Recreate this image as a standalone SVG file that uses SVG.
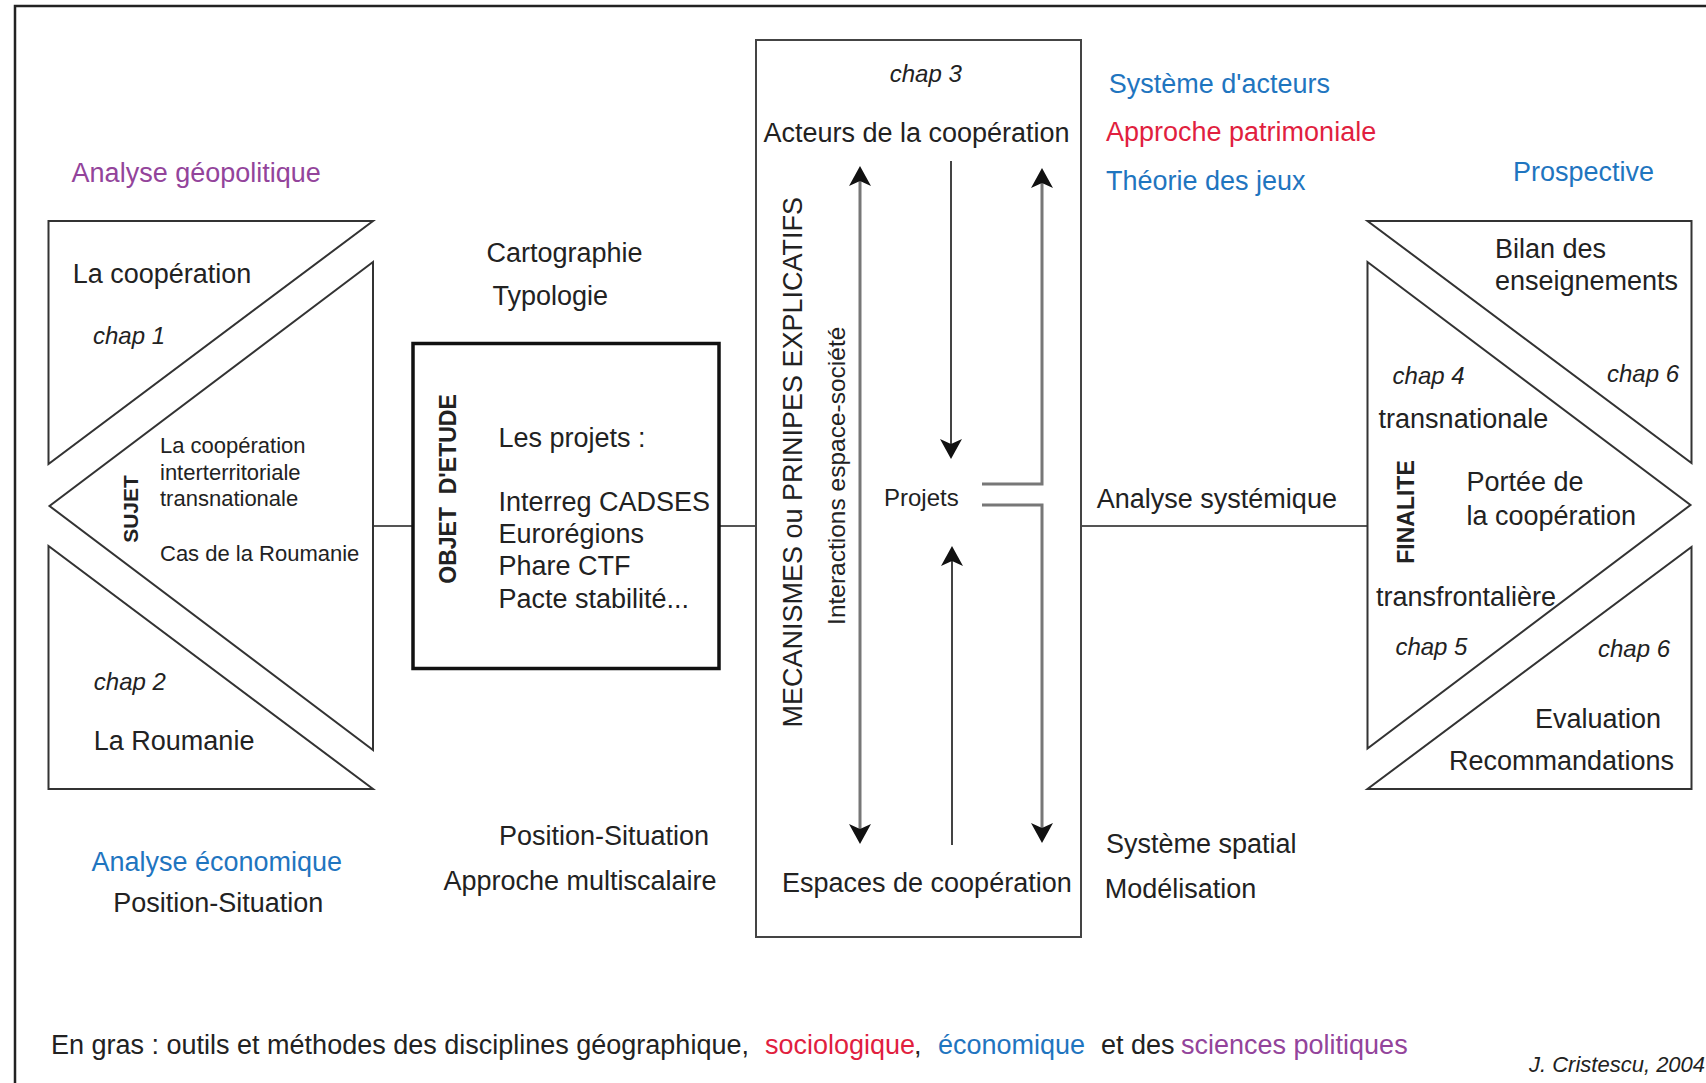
<svg xmlns="http://www.w3.org/2000/svg" width="1706" height="1083" viewBox="0 0 1706 1083">
<style>
text{font-family:"Liberation Sans",Arial,Helvetica,sans-serif;fill:#222;}
.t{font-size:27px;}
.s{font-size:22px;}
.c{font-size:24px;font-style:italic;}
.b{font-weight:bold;}
.lg{font-size:27px;}
.pu{fill:#93449b;}
.bl{fill:#1f75bf;}
.rd{fill:#e11f3f;}
.shape{fill:#fff;stroke:#333;stroke-width:2;stroke-linejoin:miter;}
.conn{stroke:#555;stroke-width:2;fill:none;}
.arr{stroke:#777;stroke-width:3;fill:none;}
.arr2{stroke:#444;stroke-width:2;fill:none;}
</style>
<defs>
<marker id="ah" viewBox="-21 -12 22 24" refX="-10" refY="0" markerWidth="22" markerHeight="24" markerUnits="userSpaceOnUse" orient="auto-start-reverse">
<path d="M0,0 L-20,-11 L-15,0 L-20,11 Z" fill="#111"/>
</marker>
</defs>
<rect x="0" y="0" width="1706" height="1083" fill="#fff"/>
<rect x="15" y="6" width="1800" height="1200" fill="none" stroke="#222" stroke-width="2.5"/>

<g id="connectors">
<line class="conn" x1="373" y1="526" x2="413" y2="526"/>
<line class="conn" x1="719" y1="526" x2="756" y2="526"/>
<line class="conn" x1="1081" y1="526" x2="1367.5" y2="526"/>
<line class="arr" x1="860" y1="176" x2="860" y2="834" marker-start="url(#ah)" marker-end="url(#ah)"/>
<line class="arr2" x1="951" y1="161" x2="951" y2="449" marker-end="url(#ah)"/>
<line class="arr2" x1="952" y1="845" x2="952" y2="556" marker-end="url(#ah)"/>
<path class="arr" d="M982,484 H1042 V178" marker-end="url(#ah)"/>
<path class="arr" d="M982,505 H1042 V833" marker-end="url(#ah)"/>
</g>

<g id="sujet-cooperation">
<polygon class="shape" points="48.5,221 373,221 48.5,464"/>
<text class="t" x="72.7" y="282.7">La coopération</text>
<text class="c" x="93" y="343.6">chap 1</text>
</g>
<g id="sujet">
<polygon class="shape" points="373,262 49.5,506 373,750"/>
<text class="b" font-size="21" transform="translate(137.5,509) rotate(-90)" text-anchor="middle">SUJET</text>
<text class="s" x="160" y="453">La coopération</text>
<text class="s" x="160" y="479.6">interterritoriale</text>
<text class="s" x="160" y="506">transnationale</text>
<text class="s" x="160" y="560.6">Cas de la Roumanie</text>
</g>
<g id="sujet-roumanie">
<polygon class="shape" points="48.5,546 48.5,789 373,789"/>
<text class="c" x="93.8" y="690.3">chap 2</text>
<text class="t" x="93.8" y="749.7">La Roumanie</text>
</g>
<g id="left-labels">
<text class="t pu" x="71.6" y="181.7">Analyse géopolitique</text>
<text class="t bl" x="91.4" y="871.4">Analyse économique</text>
<text class="t" x="113.2" y="911.7">Position-Situation</text>
</g>

<g id="objet">
<rect x="413" y="343.5" width="306" height="325" fill="#fff" stroke="#111" stroke-width="3.5"/>
<text class="b" font-size="23" transform="translate(456,489) rotate(-90)" text-anchor="middle" xml:space="preserve">OBJET  D'ETUDE</text>
<text class="t" x="498.5" y="446.7">Les projets :</text>
<text class="t" x="498.5" y="511.4">Interreg CADSES</text>
<text class="t" x="498.5" y="542.7">Eurorégions</text>
<text class="t" x="498.5" y="574.7">Phare CTF</text>
<text class="t" x="498.5" y="607.7">Pacte stabilité...</text>
</g>
<g id="objet-labels">
<text class="t" x="486.5" y="261.7">Cartographie</text>
<text class="t" x="492.5" y="304.7">Typologie</text>
<text class="t" x="709" y="844.7" text-anchor="end">Position-Situation</text>
<text class="t" x="716.6" y="889.7" text-anchor="end">Approche multiscalaire</text>
</g>

<g id="mecanismes">
<rect x="756" y="40" width="325" height="897" fill="none" stroke="#444" stroke-width="2"/>
<text class="c" x="889.7" y="81.6">chap 3</text>
<text class="t" x="763.4" y="142">Acteurs de la coopération</text>
<text class="t" transform="translate(801.5,462.3) rotate(-90)" text-anchor="middle">MECANISMES ou PRINIPES EXPLICATIFS</text>
<text font-size="24.5" transform="translate(845,475.8) rotate(-90)" text-anchor="middle">Interactions espace-société</text>
<text font-size="24" x="884" y="505.6">Projets</text>
<text class="t" x="782" y="891.5">Espaces de coopération</text>
</g>

<g id="methodes-droite">
<text class="t bl" x="1108.7" y="92.7">Système d'acteurs</text>
<text class="t rd" x="1106" y="141.4">Approche patrimoniale</text>
<text class="t bl" x="1106" y="189.7">Théorie des jeux</text>
<text class="t" x="1096.8" y="508">Analyse systémique</text>
<text class="t" x="1106" y="853">Système spatial</text>
<text class="t" x="1104.7" y="898">Modélisation</text>
<text class="t bl" x="1513" y="181.4">Prospective</text>
</g>

<g id="finalite-bilan">
<polygon class="shape" points="1367.5,221 1691.5,221 1691.5,463"/>
<text class="t" x="1495" y="257.7">Bilan des</text>
<text class="t" x="1495" y="289.7">enseignements</text>
<text class="c" x="1607" y="381.6">chap 6</text>
</g>
<g id="finalite">
<polygon class="shape" points="1367.5,262 1690.5,505 1367.5,748.5"/>
<text class="c" x="1392.6" y="383.6">chap 4</text>
<text class="t" x="1378.6" y="427.7">transnationale</text>
<text class="b" font-size="23" transform="translate(1414,512) rotate(-90)" text-anchor="middle">FINALITE</text>
<text class="t" x="1466.4" y="491.4">Portée de</text>
<text class="t" x="1466.4" y="524.7">la coopération</text>
<text class="t" x="1376" y="606.4">transfrontalière</text>
<text class="c" x="1395.4" y="655.3">chap 5</text>
</g>
<g id="finalite-evaluation">
<polygon class="shape" points="1691.5,547 1691.5,789 1367.5,789"/>
<text class="c" x="1598" y="656.9">chap 6</text>
<text class="t" x="1535" y="728">Evaluation</text>
<text class="t" x="1449" y="769.7">Recommandations</text>
</g>

<g id="legende">
<text class="lg" x="51" y="1053.5">En gras : outils et méthodes des disciplines géographique,</text>
<text class="lg rd" x="765" y="1053.5">sociologique</text>
<text class="lg" x="914" y="1053.5">,</text>
<text class="lg bl" x="938" y="1053.5">économique</text>
<text class="lg" x="1101" y="1053.5">et des</text>
<text class="lg pu" x="1181" y="1053.5">sciences politiques</text>
<text font-size="22" font-style="italic" x="1529" y="1071.5">J. Cristescu, 2004</text>
</g>
</svg>
